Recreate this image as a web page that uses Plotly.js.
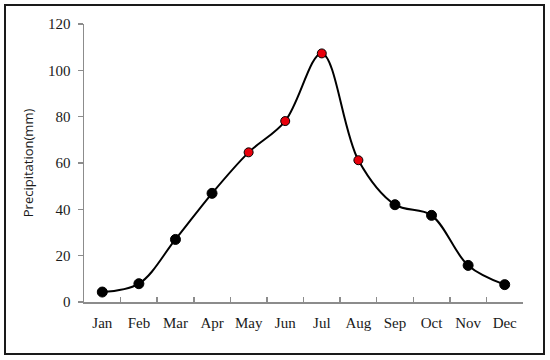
<!DOCTYPE html>
<html>
<head>
<meta charset="utf-8">
<script src="https://cdn.plot.ly/plotly-3.0.1.min.js"></script>
<style>
html,body{margin:0;padding:0;background:#fff;}
#wrap{position:relative;width:550px;height:360px;}
#chart{position:absolute;left:0;top:0;width:550px;height:360px;}
#frame{position:absolute;left:4px;top:4px;width:537px;height:347px;border:2px solid #1a1a1a;pointer-events:none;}
</style>
</head>
<body>
<div id="wrap"><div id="chart"></div><div id="frame"></div></div>
<script>
const months = ['Jan','Feb','Mar','Apr','May','Jun','Jul','Aug','Sep','Oct','Nov','Dec'];
const precipitation = [4.3, 7.9, 27.0, 46.9, 64.6, 78.1, 107.3, 61.2, 42.0, 37.4, 15.8, 7.5];
const highlightedMonths = ['May','Jun','Jul','Aug'];
const yTicks = [0, 20, 40, 60, 80, 100, 120];

const markerColors = months.map(m => highlightedMonths.includes(m) ? '#e8000b' : '#000000');
const markerSizes = months.map(m => highlightedMonths.includes(m) ? 9 : 10);

const traces = [{
  x: months,
  y: precipitation,
  type: 'scatter',
  mode: 'lines+markers',
  line: {shape: 'spline', smoothing: 1, color: '#000000', width: 2},
  marker: {color: markerColors, size: markerSizes, opacity: 1, line: {color: '#000000', width: 1}},
  hoverinfo: 'x+y'
}];

const axisGray = '#8c8c8c';
const layout = {
  width: 550, height: 360,
  margin: {l: 84, r: 27, t: 24, b: 58},
  paper_bgcolor: '#ffffff', plot_bgcolor: '#ffffff',
  showlegend: false,
  xaxis: {
    type: 'category',
    range: [-0.5, 11.5],
    tickson: 'boundaries',
    tickangle: 0,
    ticks: 'inside', ticklen: 5, tickcolor: axisGray, tickwidth: 1.5,
    showline: true, linecolor: axisGray, linewidth: 1.5,
    showgrid: false, zeroline: false,
    tickfont: {family: 'Liberation Serif, Times New Roman, serif', size: 15, color: '#1a1a1a'},
    ticklabelstandoff: 6
  },
  yaxis: {
    range: [0, 120],
    tickvals: yTicks,
    ticks: 'outside', ticklen: 5, tickcolor: axisGray, tickwidth: 1.5,
    showline: true, linecolor: axisGray, linewidth: 1.5,
    showgrid: false, zeroline: false,
    tickfont: {family: 'Liberation Serif, Times New Roman, serif', size: 15, color: '#1a1a1a'},
    ticklabelstandoff: 4,
    title: {text: 'Precipitation(mm)', font: {family: 'Open Sans, DejaVu Sans, sans-serif', size: 13, color: '#1a1a1a'}, standoff: 11}
  }
};

Plotly.newPlot('chart', traces, layout, {displayModeBar: false, staticPlot: true});
</script>
</body>
</html>
